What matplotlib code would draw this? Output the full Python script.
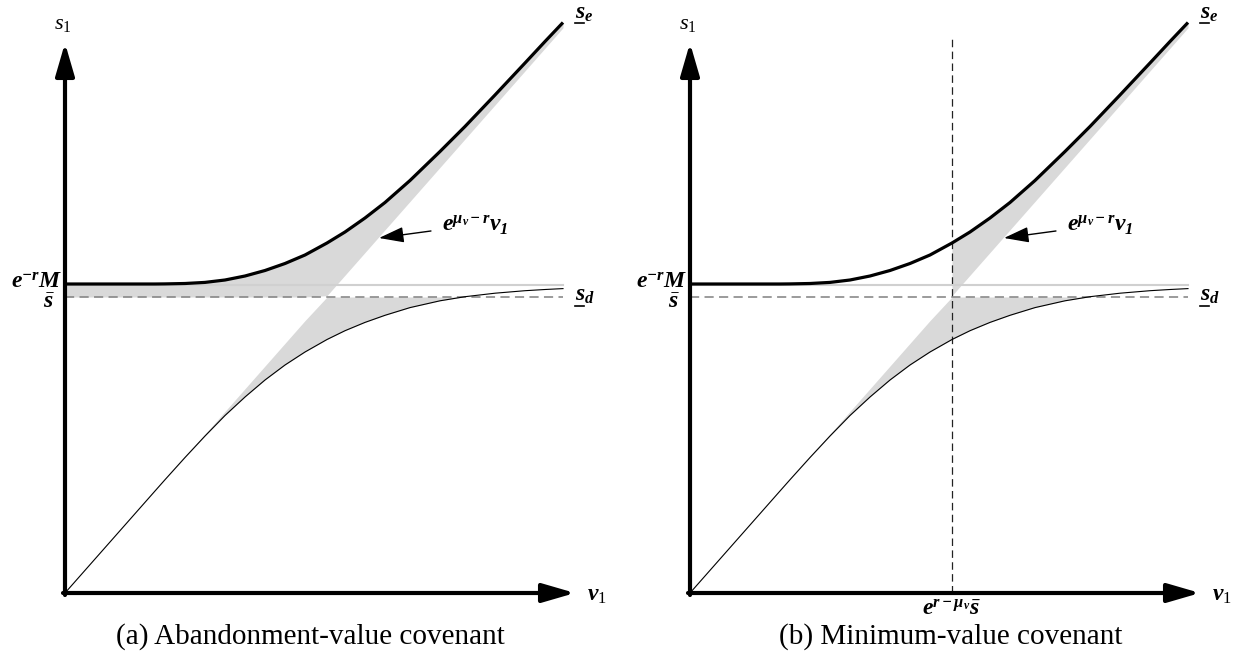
import numpy as np
import matplotlib
matplotlib.use("Agg")
import matplotlib.pyplot as plt

plt.rcParams.update({
    "font.family": ["Liberation Serif", "DejaVu Serif"],
    "mathtext.fontset": "custom",
    "mathtext.rm": "Liberation Serif",
    "mathtext.it": "Liberation Serif:italic",
    "mathtext.bf": "Liberation Serif:bold:italic",
})

# schematic values (drawing units)
V = [0, 30, 60, 90, 100, 120, 140, 160, 180, 200, 220, 240, 262, 280,
     300, 320, 345, 375, 400, 430, 460, 480, 498]
S_E = [309, 309, 309, 309, 309.1, 309.5, 310.6, 313, 317, 322.5, 329.5,
       338, 350, 361, 375, 390.5, 412.5, 441.5, 466.5, 498, 530, 551.5,
       570.5]
S_D = [0, 34, 68, 102, 113.3, 135.5, 157, 177.5, 196, 213, 228, 241,
       253.5, 262.3, 270.6, 277.7, 285.4, 292.2, 296.3, 299.8, 302.3,
       303.5, 304.4]
SLOPE = 1.135         # e^{mu_v - r}
M_LEVEL = 308         # e^{-r} M
S_BAR = 296           # s bar
V_BAR = 262           # e^{r - mu_v} s bar

CAPTIONS = ["(a) Abandonment-value covenant", "(b) Minimum-value covenant"]
CAPTION_X = [245, 261]

SHADE = "#d9d9d9"

v = np.array(V, dtype=float)
s_e = np.array(S_E, dtype=float)
s_d = np.array(S_D, dtype=float)
line = SLOPE * v
sbar = np.full_like(v, S_BAR)

fig = plt.figure(figsize=(12.41, 6.57), dpi=100)
ax_a = fig.add_axes([0, 0, 625 / 1241, 1])
ax_b = fig.add_axes([625 / 1241, 0, 616 / 1241, 1])
ax_a.set_xlim(-65, 560)
ax_b.set_xlim(-65, 551)

for i, ax in enumerate([ax_a, ax_b]):
    ax.set_ylim(-64, 593)
    ax.axis("off")

    # shaded regions
    if i == 0:
        low = np.maximum(line, sbar)
        ax.fill_between(v, low, s_e, where=s_e >= low, interpolate=True,
                        color=SHADE, lw=0)
    else:
        ax.fill_between(v, line, s_e, where=v >= V_BAR, interpolate=True,
                        color=SHADE, lw=0)
        ax.plot([V_BAR, V_BAR], [0, 555], color="#222222", lw=0.9,
                dashes=(6, 3.5))
    top = np.minimum(line, sbar)
    ax.fill_between(v, s_d, top, where=s_d <= top, interpolate=True,
                    color=SHADE, lw=0)

    # reference levels
    ax.plot([0, V[-1]], [M_LEVEL, M_LEVEL], color="#d0d0d0", lw=1.5)
    ax.plot([0, V[-1]], [S_BAR, S_BAR], color="#808080", lw=1.1,
            dashes=(6, 3.5))

    # curves
    ax.plot(v, s_d, color="black", lw=0.8)
    ax.plot(v, s_e, color="black", lw=2.3, solid_capstyle="butt",
            solid_joinstyle="round")

    # axes with arrowheads
    arrow = dict(arrowstyle="-|>,head_length=0.55,head_width=0.16",
                 mutation_scale=36, lw=3, color="black",
                 shrinkA=0, shrinkB=0)
    ax.annotate("", xy=(0, 550), xytext=(0, -2), arrowprops=arrow)
    ax.annotate("", xy=(510, 0), xytext=(-2, 0), arrowprops=arrow)

    # labels
    ax.text(-2, 569, r"$s_1$", fontsize=16, ha="center", va="center")
    ax.text(522, -3, r"$\mathbf{v}_1$", fontsize=17, ha="left", va="center")
    ax.text(-3, 311, r"$\mathbf{e^{-r}M}$", fontsize=17, ha="right",
            va="center")
    ax.text(-16, 290, r"$\bar{\mathbf{s}}$", fontsize=17, ha="center",
            va="center")
    ax.text(510, 580, r"$\mathbf{s_e}$", fontsize=17, ha="left",
            va="center")
    ax.plot([510, 519], [570, 570], color="black", lw=1.2)
    ax.text(510, 297, r"$\mathbf{s_d}$", fontsize=17, ha="left",
            va="center")
    ax.plot([510, 519], [287, 287], color="black", lw=1.2)

    ax.annotate(r"$\mathbf{e^{\mu_v - r}v_1}$", xy=(314, 355),
                xytext=(377, 368), fontsize=17, ha="left", va="center",
                arrowprops=dict(arrowstyle="-|>,head_length=0.7,head_width=0.22",
                                mutation_scale=22, lw=1, color="black",
                                shrinkA=6, shrinkB=0))

    ax.text(CAPTION_X[i], -44, CAPTIONS[i], fontsize=21, ha="center",
            va="center")

ax_b.text(V_BAR, -16, r"$\mathbf{e^{r-\mu_v}\bar{s}}$", fontsize=17,
          ha="center", va="center")

fig.savefig("out.png", dpi=100)
